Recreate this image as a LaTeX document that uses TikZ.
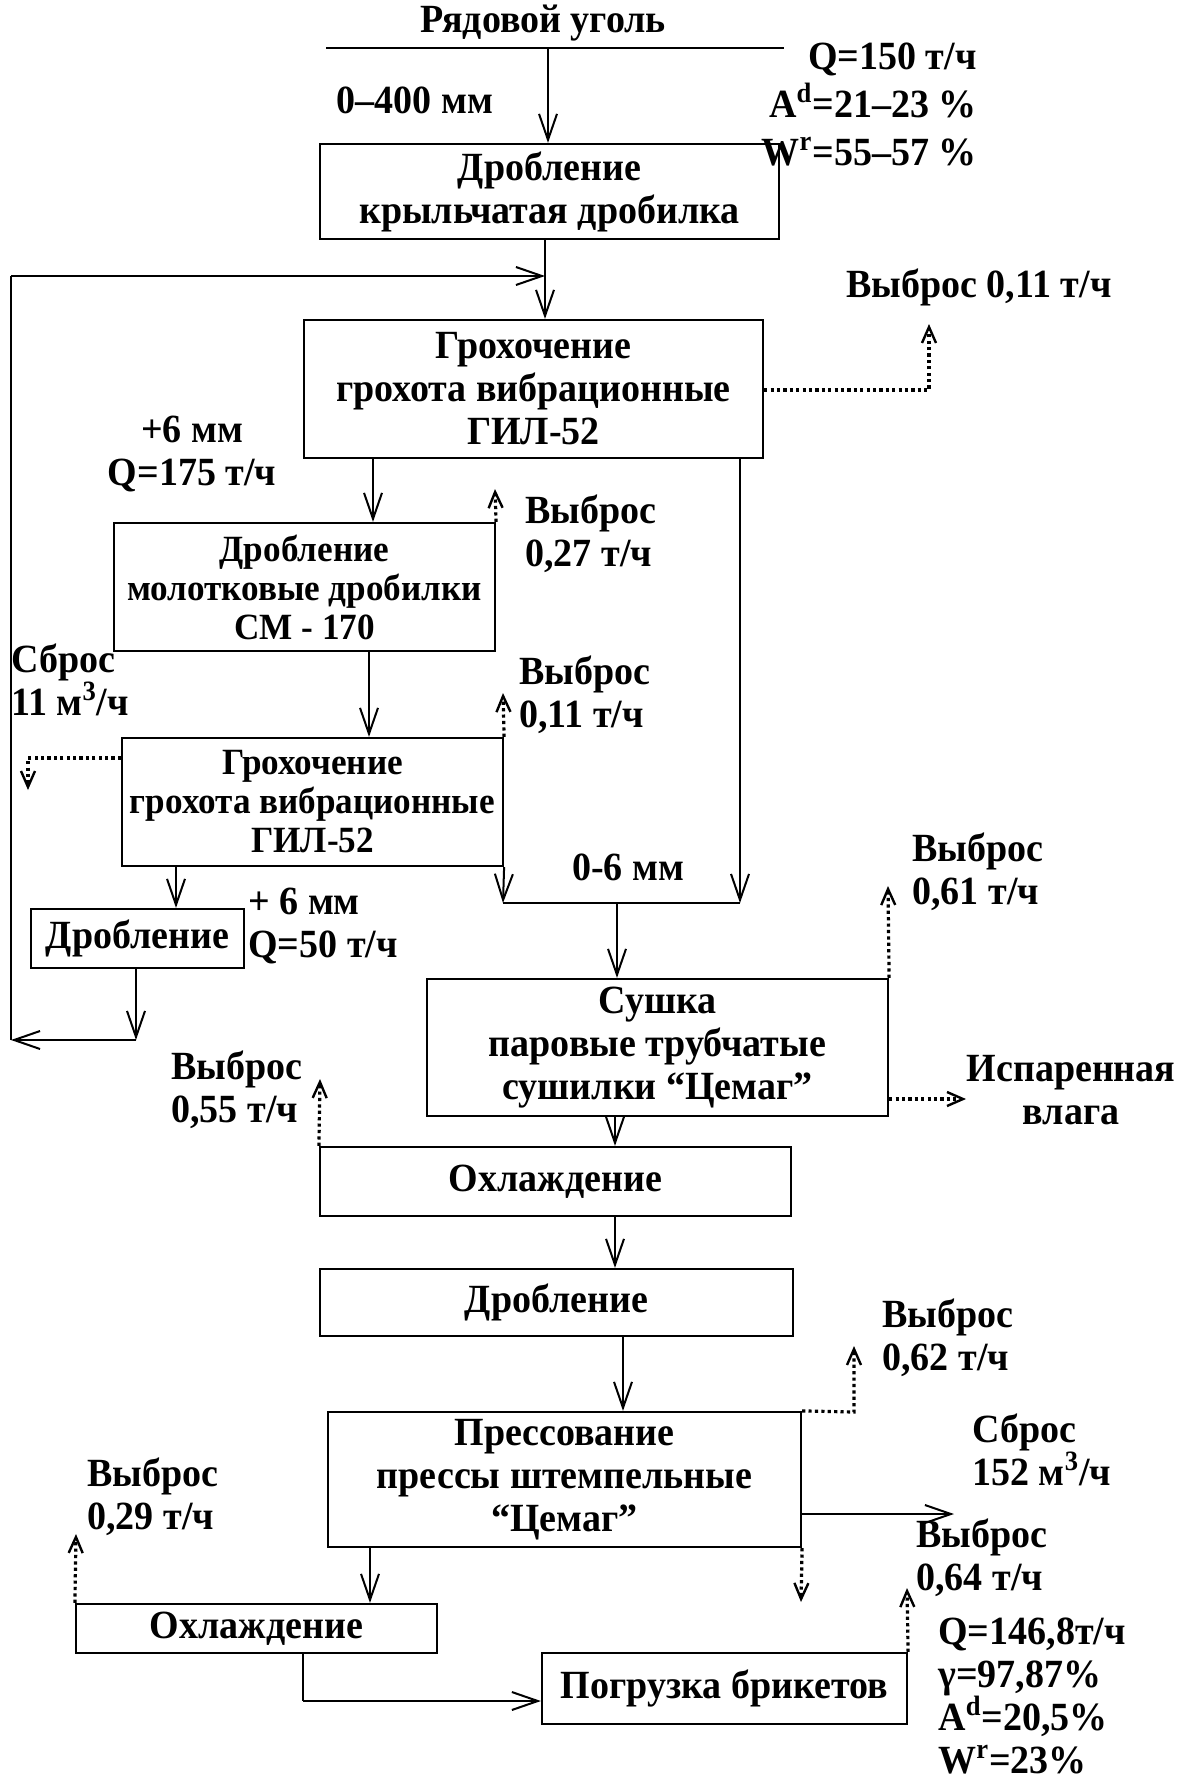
\documentclass[tikz,border=0pt]{standalone}
\usepackage{fontspec}
\setmainfont{Liberation Serif}[FakeStretch=0.95]
\usetikzlibrary{arrows.meta}
\begin{document}
\begin{tikzpicture}[x=0.5pt,y=-0.5pt,
  every node/.style={font=\bfseries\fontsize{20}{21.5}\selectfont, inner sep=0pt},
  box/.style={draw, line width=1.1pt, align=center, inner sep=0pt},
  sbox/.style={box, font=\bfseries\fontsize{18.5}{19.5}\selectfont},
  lbl/.style={align=left, anchor=west},
  ln/.style={line width=1pt},
  arr/.style={line width=1pt, -{Straight Barb[length=13pt,width=9pt,line width=1pt]}},
  dot/.style={line width=1.6pt, dash pattern=on 1.6pt off 1.6pt},
  darr/.style={dot, -{Straight Barb[length=8pt,width=7pt,line width=1.2pt]}}
]
\useasboundingbox (0,0) rectangle (1185,1782);

% ---------- boxes ----------
\node[box, minimum width=229.5pt, minimum height=47.5pt] (b1) at (549.5,191.5) {Дробление\\крыльчатая дробилка};
\node[box, minimum width=229.5pt, minimum height=69pt] (b2) at (533.5,389) {Грохочение\\грохота вибрационные\\ГИЛ-52};
\node[sbox, minimum width=190.5pt, minimum height=64pt] (b3) at (304.5,587) {Дробление\\молотковые дробилки\\СМ - 170};
\node[sbox, minimum width=190.5pt, minimum height=64pt] (b4) at (312.5,802) {Грохочение\\грохота вибрационные\\ГИЛ-52};
\node[box, minimum width=106.5pt, minimum height=29.5pt] (b5) at (137.5,938.5) {Дробление};
\node[box, minimum width=230.5pt, minimum height=68.5pt] (b6) at (657.5,1047.5) {Сушка\\паровые трубчатые\\сушилки “Цемаг”};
\node[box, minimum width=235.5pt, minimum height=34.5pt] (b7) at (555.5,1181.5) {Охлаждение};
\node[box, minimum width=236.5pt, minimum height=33.5pt] (b8) at (556.5,1302.5) {Дробление};
\node[box, minimum width=236.5pt, minimum height=67.5pt] (b9) at (564.5,1479.5) {Прессование\\прессы штемпельные\\“Цемаг”};
\node[box, minimum width=180.5pt, minimum height=24.5pt] (b10) at (256.5,1628.5) {Охлаждение};
\node[box, minimum width=182.5pt, minimum height=35.5pt] (b11) at (724.5,1688.5) {Погрузка брикетов};

% ---------- labels ----------
\node (src) at (543,23) {Рядовой уголь};
\node (size0) at (415,100) {0–400 мм};
\node[align=right, anchor=east] (qin) at (977,105) {Q=150 т/ч\\[2.5pt]A\textsuperscript{d}=21–23 \%\\[2.5pt]W\textsuperscript{r}=55–57 \%};
\node (v1) at (979,287) {Выброс 0,11 т/ч};
\node[align=center] (p6) at (192,454) {+6 мм\\Q=175 т/ч};
\node[lbl] (v2) at (525,534) {Выброс\\0,27 т/ч};
\node[lbl] (v3) at (519,695) {Выброс\\0,11 т/ч};
\node[lbl] (s1) at (11,680) {Сброс\\11 м\textsuperscript{3}/ч};
\node[lbl] (p6b) at (248,926) {+ 6 мм\\Q=50 т/ч};
\node (f06) at (628,867) {0-6 мм};
\node[lbl] (v4) at (912,872) {Выброс\\0,61 т/ч};
\node[align=center] (vap) at (1071,1090) {Испаренная\\влага};
\node[lbl] (v5) at (171,1090) {Выброс\\0,55 т/ч};
\node[lbl] (v6) at (882,1338) {Выброс\\0,62 т/ч};
\node[lbl] (s2) at (972,1450) {Сброс\\152 м\textsuperscript{3}/ч};
\node[lbl] (v7) at (916,1558) {Выброс\\0,64 т/ч};
\node[lbl] (v8) at (87,1497) {Выброс\\0,29 т/ч};
\node[lbl] (qout) at (938,1696) {Q=146,8т/ч\\γ=97,87\%\\A\textsuperscript{d}=20,5\%\\W\textsuperscript{r}=23\%};

% ---------- coordinates ----------
\coordinate (feedL) at (326,48);
\coordinate (feedR) at (784,48);
\coordinate (feedA) at (548,48);
\coordinate (j1) at (545,276);
\coordinate (lt) at (11,276);
\coordinate (lb) at (11,1040);
\coordinate (x373) at (373,0);
\coordinate (x369) at (369,0);
\coordinate (x176) at (176,0);
\coordinate (x615) at (615,0);
\coordinate (x623) at (623,0);
\coordinate (x370) at (370,0);
\coordinate (c5) at (136,1040);
\coordinate (m1) at (503,903);
\coordinate (m2) at (740,903);
\coordinate (m3) at (617,903);
\coordinate (e1c) at (929,390);
\coordinate (e1) at (929,324);
\coordinate (e2) at (495,489);
\coordinate (e3) at (503,693);
\coordinate (e4c) at (28,758);
\coordinate (e4) at (28,790);
\coordinate (e5) at (888,886);
\coordinate (e6) at (966,1099);
\coordinate (e7) at (320,1079);
\coordinate (e8c) at (854,1412);
\coordinate (e8) at (854,1346);
\coordinate (s9) at (954,1514);
\coordinate (e9) at (801,1602);
\coordinate (e10) at (76,1534);
\coordinate (c10) at (303,1701);
\coordinate (e11) at (907,1588);

% ---------- solid connectors ----------
\draw[ln] (feedL) -- (feedR);
\draw[arr] (feedA) -- (feedA |- b1.north);
\draw[ln] (j1 |- b1.south) -- (j1);
\draw[arr] (j1) -- (j1 |- b2.north);
\draw[ln] (lb) -- (lt);
\draw[arr] (lt) -- (j1);
\draw[arr] (b2.south -| x373) -- (b3.north -| x373);
\draw[arr] (b2.south -| m2) -- (m2);
\draw[arr] (b3.south -| x369) -- (b4.north -| x369);
\draw[arr] (b4.south -| x176) -- (b5.north -| x176);
\draw[arr] (b4.south east) -- (m1);
\draw[ln] (m1) -- (m2);
\draw[arr] (m3) -- (m3 |- b6.north);
\draw[arr] (b5.south -| c5) -- (c5);
\draw[arr] (c5) -- (lb);
\draw[arr] (b6.south -| x615) -- (b7.north -| x615);
\draw[arr] (b7.south -| x615) -- (b8.north -| x615);
\draw[arr] (b8.south -| x623) -- (b9.north -| x623);
\draw[arr] (b9.east |- s9) -- (s9);
\draw[arr] (b9.south -| x370) -- (b10.north -| x370);
\draw[ln] (b10.south -| c10) -- (c10);
\draw[arr] (c10) -- (c10 -| b11.west);

% ---------- dotted connectors ----------
\draw[darr] (b2.east |- e1c) -- (e1c) -- (e1);
\draw[darr] (b3.north east) -- (e2);
\draw[darr] (b4.north east) -- (e3);
\draw[darr] (b4.west |- e4c) -- (e4c) -- (e4);
\draw[darr] (b6.north east) -- (e5);
\draw[darr] (b6.east |- e6) -- (e6);
\draw[darr] (b7.north west) -- (e7);
\draw[darr] (b9.north east) -- (e8c) -- (e8);
\draw[darr] (b9.south east) -- (e9);
\draw[darr] (b10.north west) -- (e10);
\draw[darr] (b11.north east) -- (e11);
\end{tikzpicture}
\end{document}
